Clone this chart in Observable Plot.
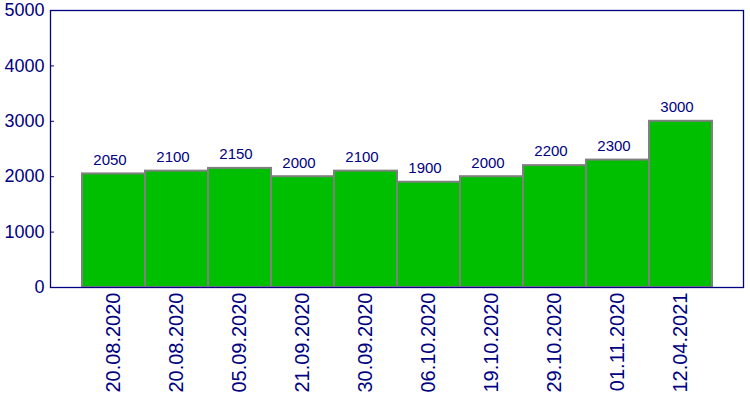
<!DOCTYPE html>
<html>
<head>
<meta charset="utf-8">
<script src="https://cdn.jsdelivr.net/npm/d3@7"></script>
<script src="https://cdn.jsdelivr.net/npm/@observablehq/plot@0.6"></script>
<style>
  html, body { margin: 0; padding: 0; background: #fff; }
  #chart svg { display: block; }
</style>
</head>
<body>
<div id="chart"></div>
<script>
const dates = ["20.08.2020","20.08.2020","05.09.2020","21.09.2020","30.09.2020","06.10.2020","19.10.2020","29.10.2020","01.11.2020","12.04.2021"];
const values = [2050, 2100, 2150, 2000, 2100, 1900, 2000, 2200, 2300, 3000];
const yTicks = [0, 1000, 2000, 3000, 4000, 5000];

const data = dates.map((d, i) => ({i, date: d, value: values[i]}));
const navy = "#000080";

const chart = Plot.plot({
  width: 750,
  height: 400,
  marginLeft: 50,
  marginTop: 10,
  marginRight: 7,
  marginBottom: 113,
  style: {fontFamily: "'Liberation Sans', Arial, sans-serif", background: "#fff"},
  x: {domain: d3.range(dates.length), paddingInner: 0, paddingOuter: 0.5, align: 0.5},
  y: {domain: [0, 5000]},
  marks: [
    Plot.barY(data, {x: "i", y: "value", fill: "#00bf00", stroke: "#808080", strokeWidth: 2}),
    Plot.text(data, {x: "i", y: "value", text: d => String(d.value), dy: -14, dx: -4, fill: navy, fontSize: 15}),
    Plot.frame({stroke: navy, strokeWidth: 1.3}),
    Plot.axisY(yTicks, {anchor: "left", tickSize: -4, tickPadding: 10, stroke: navy, fill: navy, fontSize: 18, tickFormat: d => String(d), label: null}),
    Plot.axisX({anchor: "bottom", tickSize: 0, tickPadding: 5, tickRotate: -90, fill: navy, fontSize: 20, tickFormat: i => dates[i], label: null})
  ]
});
document.getElementById("chart").appendChild(chart);
</script>
</body>
</html>
